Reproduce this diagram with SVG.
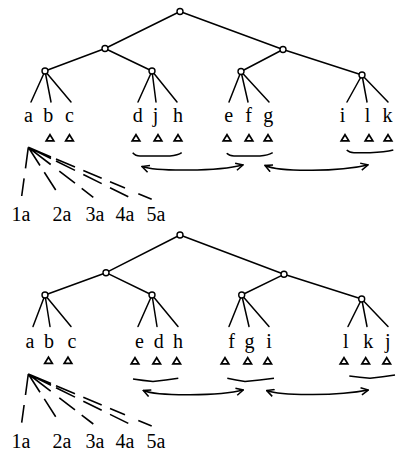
<svg xmlns="http://www.w3.org/2000/svg" xmlns:xlink="http://www.w3.org/1999/xlink" width="409" height="457" viewBox="0 0 409 457">
<style>
.e{stroke:#000;stroke-width:1.5;fill:none;stroke-linecap:round}
.f{stroke:#000;stroke-width:1.6;fill:none;stroke-linecap:butt}
.n{fill:#fff;stroke:#000;stroke-width:1.4}
.t{font-size:20px;fill:#000;text-anchor:middle}
.tri{fill:none;stroke:#000;stroke-width:1.7;stroke-linejoin:miter}
.a{stroke:#000;stroke-width:1.5;fill:none}
</style>
<defs>
<path id="tri" class="tri" d="M0,-3.3 L3.8,2.8 L-3.8,2.8 Z"/>
<marker id="ah" viewBox="0 0 10 10" refX="9" refY="5" markerWidth="9" markerHeight="9" orient="auto-start-reverse" markerUnits="userSpaceOnUse">
<path d="M1,1 L9,5 L1,9" fill="none" stroke="#000" stroke-width="1.7"/>
</marker>
</defs>
<rect width="409" height="457" fill="#fff"/>
<g id="connectors">
<g id="top-edges">
<path class="e" d="M180,11.5 L105,48.5 M180,11.5 L283,49.5 M105,48.5 L45,71 M105,48.5 L152,71 M283,49.5 L241,71.5 M283,49.5 L362,75"/>
<path class="e" d="M45,71 L31,102 M45,71 L51,102 M45,71 L71,102 M152,71 L138,102 M152,71 L156,102 M152,71 L177,102 M241,71.5 L229,102 M241,71.5 L248,102 M241,71.5 L269,102 M362,75 L347,102 M362,75 L367,102 M362,75 L388,102"/>
<path class="a" d="M132.7,152.7 Q135.5,156 140,156 L170,156 Q178,155.5 181.7,152.7 M226.7,153.3 Q229.5,156 234,156 L260,156 Q268,155.5 272.7,152.7 M346.7,150 Q349.5,152.7 354,152.7 L370,152.7 Q385,152.2 393.3,150"/>
<path class="a" marker-start="url(#ah)" marker-end="url(#ah)" d="M142,166.5 C156,171.5 218,171.5 243,165"/>
<path class="a" marker-start="url(#ah)" marker-end="url(#ah)" d="M265,165.5 C281,172.5 340,171.5 368,165"/>
</g>
<g id="top-fan">
<path class="f" d="M28.3,147.3 L25.5,168.3 M24.1,178.3 L21.7,196
M28.3,147.3 L40,165.5 M44.3,172.2 L55.7,190
M28.3,147.3 L50.7,164.5 M59.3,171.1 L75,183.2 M81.7,188.4 L93.3,197.3
M28.3,147.3 L51,158.5 M56,161 L75,170.4 M83.3,174.5 L101.7,183.6 M110,187.7 L128.3,196.7
M28.3,147.3 L51,156.9 M56,159 L75,167 M83.3,170.5 L101.7,178.2 M110,181.7 L125,188 M138.3,193.7 L151.7,199.3"/>
</g>
<g id="bottom-edges">
<path class="e" d="M180,235 L106,272.7 M180,235 L284,274.3 M106,272.7 L45,295 M106,272.7 L152,295 M284,274.3 L241.7,295 M284,274.3 L361.7,299"/>
<path class="e" d="M45,295 L33,326.5 M45,295 L50,326.5 M45,295 L71,326.5 M152,295 L138,326.5 M152,295 L157,326.5 M152,295 L178,326.5 M241.7,295 L229,326.5 M241.7,295 L249,326.5 M241.7,295 L269,326.5 M361.7,299 L348,326.5 M361.7,299 L367,326.5 M361.7,299 L388,326.5"/>
<path class="a" d="M133,379 Q143,380.5 153,381.5 Q166,380 178.3,378.3 M227.3,378.3 Q236,380 245,381.5 Q260,380 274,378.3 M349.3,376 Q360,377.5 370,378.3 Q383,377 395,375"/>
<path class="a" marker-start="url(#ah)" marker-end="url(#ah)" d="M143.3,390.5 C158,396.5 220,396 243.3,390"/>
<path class="a" marker-start="url(#ah)" marker-end="url(#ah)" d="M266.7,390.5 C283,396.5 340,395.5 368.3,390"/>
</g>
<g id="bottom-fan" transform="translate(0,226.7)">
<path class="f" d="M28.3,147.3 L25.5,168.3 M24.1,178.3 L21.7,196
M28.3,147.3 L40,165.5 M44.3,172.2 L55.7,190
M28.3,147.3 L50.7,164.5 M59.3,171.1 L75,183.2 M81.7,188.4 L93.3,197.3
M28.3,147.3 L51,158.5 M56,161 L75,170.4 M83.3,174.5 L101.7,183.6 M110,187.7 L128.3,196.7
M28.3,147.3 L51,156.9 M56,159 L75,167 M83.3,170.5 L101.7,178.2 M110,181.7 L125,188 M138.3,193.7 L151.7,199.3"/>
</g>
</g>
<g id="t-root"><circle class="n" cx="180" cy="11.5" r="3"/></g>
<g id="t-n1"><circle class="n" cx="105" cy="48.5" r="3"/></g>
<g id="t-n2"><circle class="n" cx="283" cy="49.5" r="3"/></g>
<g id="t-n3"><circle class="n" cx="45" cy="71" r="3"/></g>
<g id="t-n4"><circle class="n" cx="152" cy="71" r="3"/></g>
<g id="t-n5"><circle class="n" cx="241" cy="71.5" r="3"/></g>
<g id="t-n6"><circle class="n" cx="362" cy="75" r="3"/></g>
<g font-family="'Liberation Serif', 'Times New Roman', 'DejaVu Serif', serif">
<g id="t-leaves">
<g id="t-a"><text class="t" x="28.5" y="121.5">a</text></g>
<g id="t-b"><text class="t" x="48.3" y="121.5">b</text><use xlink:href="#tri" x="50" y="138"/></g>
<g id="t-c"><text class="t" x="69.5" y="121.5">c</text><use xlink:href="#tri" x="69.5" y="138"/></g>
<g id="t-d"><text class="t" x="137.7" y="121.5">d</text><use xlink:href="#tri" x="136" y="138"/></g>
<g id="t-j"><text class="t" x="155.5" y="121.5">j</text><use xlink:href="#tri" x="158" y="138"/></g>
<g id="t-h"><text class="t" x="178" y="121.5">h</text><use xlink:href="#tri" x="178" y="138"/></g>
<g id="t-e"><text class="t" x="228.7" y="121.5">e</text><use xlink:href="#tri" x="227" y="138"/></g>
<g id="t-f"><text class="t" x="248.7" y="121.5">f</text><use xlink:href="#tri" x="249" y="138"/></g>
<g id="t-g"><text class="t" x="268.3" y="121.5">g</text><use xlink:href="#tri" x="268" y="138"/></g>
<g id="t-i"><text class="t" x="342.5" y="121.5">i</text><use xlink:href="#tri" x="345" y="138"/></g>
<g id="t-l"><text class="t" x="367.5" y="121.5">l</text><use xlink:href="#tri" x="369" y="138"/></g>
<g id="t-k"><text class="t" x="387.5" y="121.5">k</text><use xlink:href="#tri" x="388" y="138"/></g>
</g>
<g id="t-fanlabels">
<g id="t-1a"><text class="t" x="21" y="221">1a</text></g>
<g id="t-2a"><text class="t" x="62" y="221">2a</text></g>
<g id="t-3a"><text class="t" x="95" y="221">3a</text></g>
<g id="t-4a"><text class="t" x="125" y="221">4a</text></g>
<g id="t-5a"><text class="t" x="156" y="221">5a</text></g>
</g>
</g>
<g id="b-root"><circle class="n" cx="180" cy="235" r="3"/></g>
<g id="b-n1"><circle class="n" cx="106" cy="272.7" r="3"/></g>
<g id="b-n2"><circle class="n" cx="284" cy="274.3" r="3"/></g>
<g id="b-n3"><circle class="n" cx="45" cy="295" r="3"/></g>
<g id="b-n4"><circle class="n" cx="152" cy="295" r="3"/></g>
<g id="b-n5"><circle class="n" cx="241.7" cy="295" r="3"/></g>
<g id="b-n6"><circle class="n" cx="361.7" cy="299" r="3"/></g>
<g font-family="'Liberation Serif', 'Times New Roman', 'DejaVu Serif', serif">
<g id="b-leaves">
<g id="b-a"><text class="t" x="30" y="348">a</text></g>
<g id="b-b"><text class="t" x="49" y="348">b</text><use xlink:href="#tri" x="48.5" y="360.5"/></g>
<g id="b-c"><text class="t" x="72" y="348">c</text><use xlink:href="#tri" x="68" y="360.5"/></g>
<g id="b-e"><text class="t" x="139.5" y="348">e</text><use xlink:href="#tri" x="135" y="361"/></g>
<g id="b-d"><text class="t" x="158.7" y="348">d</text><use xlink:href="#tri" x="156.7" y="361"/></g>
<g id="b-h"><text class="t" x="178" y="348">h</text><use xlink:href="#tri" x="176.7" y="361"/></g>
<g id="b-f"><text class="t" x="231.7" y="348">f</text><use xlink:href="#tri" x="225" y="361"/></g>
<g id="b-g"><text class="t" x="249.5" y="348">g</text><use xlink:href="#tri" x="247.7" y="361"/></g>
<g id="b-i"><text class="t" x="269" y="348">i</text><use xlink:href="#tri" x="267.7" y="361"/></g>
<g id="b-l"><text class="t" x="345.8" y="348">l</text><use xlink:href="#tri" x="344" y="361"/></g>
<g id="b-k"><text class="t" x="368.3" y="348">k</text><use xlink:href="#tri" x="365.7" y="361"/></g>
<g id="b-j"><text class="t" x="387.8" y="348">j</text><use xlink:href="#tri" x="386.7" y="361"/></g>
</g>
<g id="b-fanlabels">
<g id="b-1a"><text class="t" x="21" y="448">1a</text></g>
<g id="b-2a"><text class="t" x="62" y="448">2a</text></g>
<g id="b-3a"><text class="t" x="95" y="448">3a</text></g>
<g id="b-4a"><text class="t" x="125" y="448">4a</text></g>
<g id="b-5a"><text class="t" x="156" y="448">5a</text></g>
</g>
</g>
</svg>
